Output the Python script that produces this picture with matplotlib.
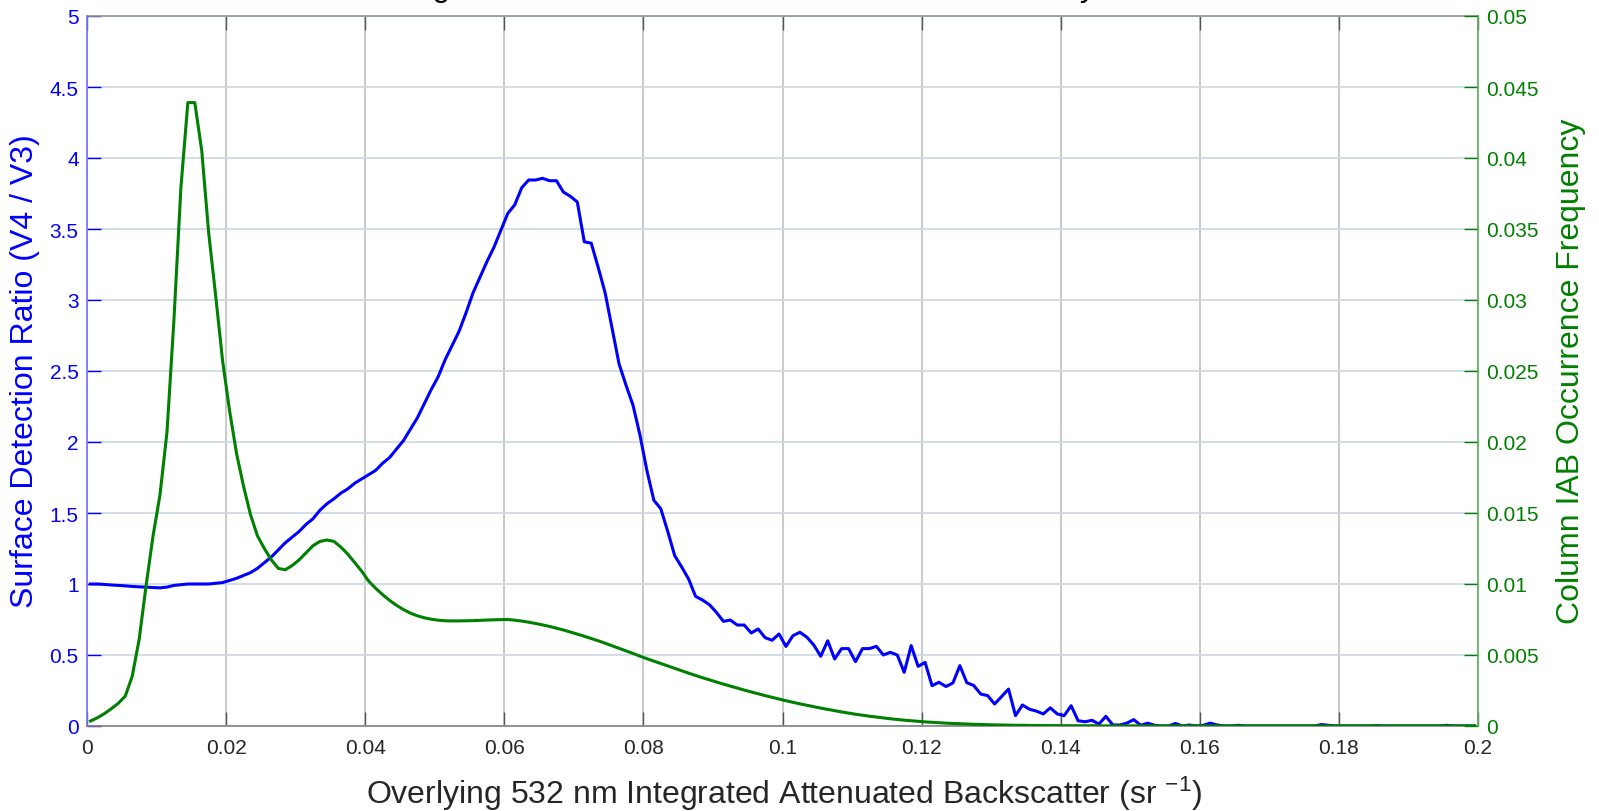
import numpy as np
import matplotlib
matplotlib.use("Agg")
import matplotlib.pyplot as plt
from matplotlib.ticker import FixedLocator, FixedFormatter

plt.rcParams['font.family'] = ['Liberation Sans', 'DejaVu Sans']
plt.rcParams['mathtext.fontset'] = 'custom'
plt.rcParams['mathtext.rm'] = 'Liberation Sans'
plt.rcParams['mathtext.it'] = 'Liberation Sans:italic'

# 0.001 sr^-1 bins of overlying integrated attenuated backscatter (bin centres)
bin_width = 0.001
iab_bins = bin_width * (np.arange(200) + 0.5)

# Surface detection ratio V4 / V3 per IAB bin
detection_ratio = [
    1.00, 1.00, 0.997, 0.993, 0.99, 0.987, 0.983, 0.98, 0.978, 0.975,
    0.973, 0.978, 0.99, 0.995, 1.0, 1.0, 1.0, 1.0, 1.005, 1.01,
    1.025, 1.04, 1.06, 1.08, 1.11, 1.15, 1.19, 1.24, 1.29, 1.33,
    1.37, 1.42, 1.46, 1.52, 1.565, 1.60, 1.64, 1.67, 1.71, 1.74,
    1.77, 1.80, 1.85, 1.89, 1.95, 2.01, 2.09, 2.17, 2.27, 2.37,
    2.46, 2.58, 2.68, 2.78, 2.91, 3.05, 3.16, 3.27, 3.37, 3.49,
    3.61, 3.67, 3.79, 3.845, 3.845, 3.857, 3.84, 3.84, 3.76, 3.73,
    3.69, 3.41, 3.40, 3.23, 3.05, 2.80, 2.55, 2.40, 2.26, 2.05,
    1.80, 1.59, 1.53, 1.37, 1.20, 1.12, 1.035, 0.913, 0.887, 0.854,
    0.80, 0.737, 0.746, 0.711, 0.711, 0.655, 0.683, 0.622, 0.604, 0.648,
    0.56, 0.636, 0.66, 0.626, 0.57, 0.491, 0.60, 0.472, 0.545, 0.545,
    0.453, 0.545, 0.545, 0.561, 0.50, 0.519, 0.50, 0.378, 0.566, 0.42,
    0.448, 0.284, 0.308, 0.278, 0.303, 0.425, 0.305, 0.285, 0.225, 0.214,
    0.155, 0.208, 0.26, 0.073, 0.148, 0.118, 0.105, 0.085, 0.128, 0.085,
    0.073, 0.143, 0.037, 0.03, 0.04, 0.014, 0.068, 0.007, 0.007, 0.02,
    0.045, 0.005, 0.02, 0.005, 0.0, 0.0, 0.018, 0.0, 0.007, 0.0,
    0.005, 0.02, 0.007, 0.0, 0.0, 0.005, 0.0, 0.0, 0.0, 0.0,
    0.0, 0.0, 0.0, 0.0, 0.0, 0.0, 0.0, 0.01, 0.005, 0.0,
    0.0, 0.0, 0.0, 0.0, 0.0, 0.003, 0.0, 0.0, 0.0, 0.0,
    0.0, 0.0, 0.0, 0.0, 0.0, 0.005, 0.0, 0.0, 0.0, 0.0,
]

# Column IAB occurrence frequency per bin
occurrence_freq = [
    0.00035, 0.00058, 0.00087, 0.00122, 0.0016, 0.0021, 0.0035, 0.0061, 0.0099, 0.0134,
    0.0163, 0.0207, 0.0286, 0.0379, 0.0439, 0.0439, 0.0405, 0.0347, 0.0303, 0.0257,
    0.0222, 0.0192, 0.0169, 0.0149, 0.0134, 0.0125, 0.0117, 0.0111, 0.0110, 0.0113,
    0.0117, 0.0122, 0.0127, 0.0130, 0.0131, 0.0130, 0.0126, 0.0121, 0.0115, 0.0109,
    0.0102, 0.0097, 0.00925, 0.00885, 0.0085, 0.0082, 0.00795, 0.00776, 0.00762, 0.00752,
    0.00745, 0.00741, 0.00740, 0.00740, 0.00741, 0.00742, 0.00744, 0.00746, 0.00748, 0.00749,
    0.00750, 0.00745, 0.00739, 0.00731, 0.00722, 0.00712, 0.00701, 0.00689, 0.00676, 0.00662,
    0.00647, 0.00632, 0.00616, 0.00600, 0.00583, 0.00565, 0.00547, 0.00529, 0.00511, 0.00492,
    0.00474, 0.00457, 0.00440, 0.00423, 0.00406, 0.00389, 0.00372, 0.00356, 0.00340, 0.00325,
    0.00310, 0.00295, 0.00281, 0.00267, 0.00253, 0.00240, 0.00227, 0.00214, 0.00202, 0.00190,
    0.00178, 0.00167, 0.00156, 0.00146, 0.00136, 0.00126, 0.00117, 0.00108, 0.00099, 0.00091,
    0.00083, 0.00076, 0.00069, 0.00063, 0.00057, 0.00051, 0.00046, 0.00041, 0.00037, 0.00033,
    0.00029, 0.00026, 0.00023, 0.00020, 0.00018, 0.00016, 0.00014, 0.00012, 0.00011, 0.00009,
    0.00008, 0.00007, 0.00006, 0.00005, 0.00005, 0.00004, 0.00004, 0.00003, 0.00003, 0.00003,
    0.00002, 0.00002, 0.00002, 0.00002, 0.00002, 0.00001, 0.00001, 0.00001, 0.00001, 0.00001,
    0.00001, 0.00001, 0.00001, 0.00001, 0.00001, 0.00001, 0.00001, 0.00001, 0.00001, 0.00001,
    0.00001, 0.00001, 0.00001, 0.00001, 0.00001, 0.00001, 0.00001, 0.00001, 0.00001, 0.00001,
    0.00001, 0.00001, 0.00001, 0.00001, 0.00001, 0.00001, 0.00001, 0.00001, 0.00001, 0.00001,
    0.00001, 0.00001, 0.00001, 0.00001, 0.00001, 0.00001, 0.00001, 0.00001, 0.00001, 0.00001,
    0.00001, 0.00001, 0.00001, 0.00001, 0.00001, 0.00001, 0.00001, 0.00001, 0.00001, 0.00001,
]

x_ticks = [0, 0.02, 0.04, 0.06, 0.08, 0.1, 0.12, 0.14, 0.16, 0.18, 0.2]
x_tick_labels = ['0', '0.02', '0.04', '0.06', '0.08', '0.1', '0.12', '0.14', '0.16', '0.18', '0.2']
ratio_ticks = [0, 0.5, 1, 1.5, 2, 2.5, 3, 3.5, 4, 4.5, 5]
ratio_tick_labels = ['0', '0.5', '1', '1.5', '2', '2.5', '3', '3.5', '4', '4.5', '5']
freq_ticks = [0, 0.005, 0.01, 0.015, 0.02, 0.025, 0.03, 0.035, 0.04, 0.045, 0.05]
freq_tick_labels = ['0', '0.005', '0.01', '0.015', '0.02', '0.025', '0.03', '0.035', '0.04', '0.045', '0.05']

title_text = 'Single Shot Surface Detection Statistics, February, 2008'
x_label = 'Overlying 532 nm Integrated Attenuated Backscatter (sr $^{-1}$)'
left_label = 'Surface Detection Ratio (V4 / V3)'
right_label = 'Column IAB Occurrence Frequency'

BLUE = '#0000ff'
GREEN = '#008000'
DARK = '#262626'

W, H = 1599, 812
fig = plt.figure(figsize=(W / 100, H / 100), dpi=100)
fig.patch.set_facecolor('white')

left_px, right_px, top_px, bottom_px = 87, 1478, 17, 727
ax = fig.add_axes([left_px / W, 1 - bottom_px / H,
                   (right_px - left_px) / W, (bottom_px - top_px) / H])
ax2 = ax.twinx()

ax.plot(iab_bins, detection_ratio, color=BLUE, lw=2.2, zorder=3,
        solid_joinstyle='round')
ax2.plot(iab_bins, occurrence_freq, color=GREEN, lw=2.2, zorder=3,
         solid_joinstyle='round')

ax.set_xlim(0, 0.2)
ax.set_ylim(0, 5)
ax2.set_ylim(0, 0.05)

ax.xaxis.set_major_locator(FixedLocator(x_ticks))
ax.xaxis.set_major_formatter(FixedFormatter(x_tick_labels))
ax.yaxis.set_major_locator(FixedLocator(ratio_ticks))
ax.yaxis.set_major_formatter(FixedFormatter(ratio_tick_labels))
ax2.yaxis.set_major_locator(FixedLocator(freq_ticks))
ax2.yaxis.set_major_formatter(FixedFormatter(freq_tick_labels))

ax.set_axisbelow(True)
ax.xaxis.grid(True, color='#c6c6c6', lw=1.3)
ax.yaxis.grid(True, color='#cfdae6', lw=1.3)

ax.tick_params(axis='x', direction='in', length=10, width=1.0, color='#555555',
               top=True, labelsize=15, labelcolor=DARK, pad=9)
ax.tick_params(axis='y', direction='in', length=10, width=1.0, color=BLUE,
               labelsize=15, labelcolor=BLUE, pad=6)
ax2.tick_params(axis='y', direction='in', length=10, width=1.0, color=GREEN,
                labelsize=15, labelcolor=GREEN, pad=6)

ax.spines['right'].set_visible(False)
ax.spines['left'].set_color('#7070ff')
ax.spines['bottom'].set_color('#808080')
ax.spines['top'].set_color('#8c9a8c')
for s in ('left', 'top', 'bottom'):
    ax2.spines[s].set_visible(False)
ax2.spines['right'].set_color('#5cae5c')
for a in (ax, ax2):
    for s in a.spines.values():
        s.set_linewidth(1.2)

# Title sits at the very top edge of the canvas
fig.text(784 / W, 1 + 4 / H, title_text, ha='center', va='baseline',
         fontsize=23, color='black')
fig.text(784 / W, 1 - 804 / H, x_label, ha='center', va='baseline',
         fontsize=23, color=DARK)
fig.text(25.5 / W, 1 - 371 / H, left_label, rotation=90, ha='center',
         va='center', fontsize=23, color=BLUE)
fig.text(1570.5 / W, 1 - 371 / H, right_label, rotation=90, ha='center',
         va='center', fontsize=23, color=GREEN)

fig.savefig('out.png', dpi=100, facecolor='white')
